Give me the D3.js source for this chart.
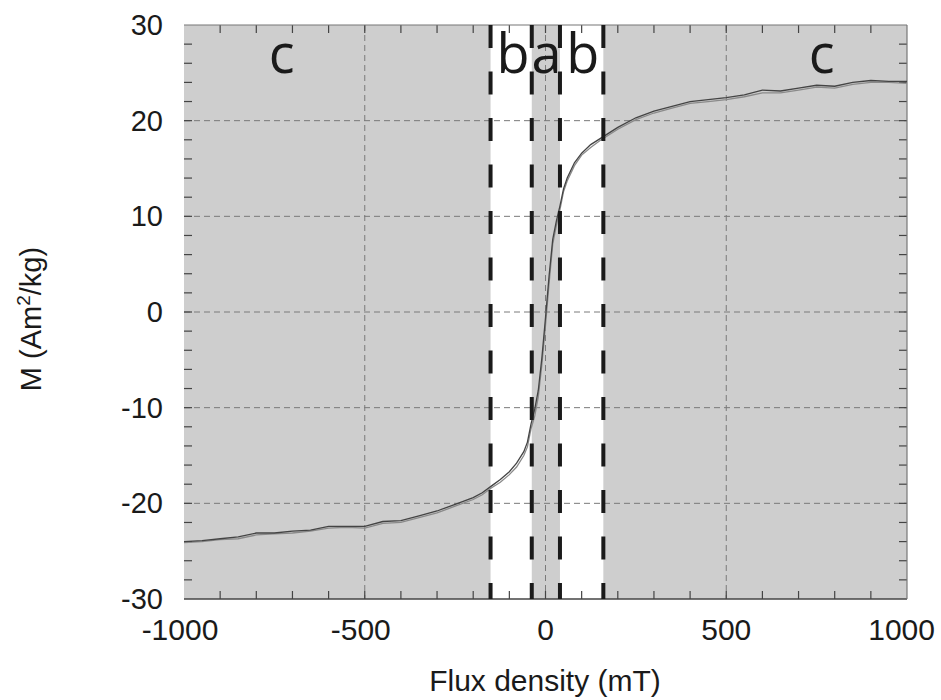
<!DOCTYPE html>
<html><head><meta charset="utf-8">
<script src="https://cdn.jsdelivr.net/npm/d3@7"></script>
<style>body{margin:0;background:#fff}svg{display:block}</style>
</head><body>
<svg id="chart" width="941" height="700"></svg>
<script>
// ---- data ----
const fieldMT = [-1000,-950,-900,-850,-800,-750,-700,-650,-600,-550,-500,-450,-400,-350,-300,-250,-200,-175,-150,-125,-100,-80,-60,-50,-40,-30,-20,-10,0,10,20,30,40,50,60,80,100,125,150,175,200,250,300,350,400,450,500,550,600,650,700,750,800,850,900,950,1000];
const descendingM = [-24.0,-23.9,-23.7,-23.5,-23.1,-23.1,-22.9,-22.8,-22.4,-22.4,-22.4,-21.9,-21.8,-21.3,-20.8,-20.1,-19.4,-18.9,-18.2,-17.5,-16.7,-15.8,-14.6,-13.6,-11.7,-10.2,-8.2,-4.8,-0.6,3.8,7.6,9.5,11.1,12.9,14.0,15.6,16.6,17.5,18.1,18.7,19.3,20.3,21.0,21.5,22.0,22.2,22.4,22.7,23.2,23.1,23.4,23.7,23.6,24.0,24.2,24.1,24.1];
const ascendingM = [-24.1,-24.0,-23.8,-23.7,-23.3,-23.2,-23.1,-22.9,-22.6,-22.5,-22.6,-22.1,-22.0,-21.5,-21.0,-20.3,-19.6,-19.1,-18.4,-17.8,-17.0,-16.2,-15.0,-14.1,-12.2,-10.9,-8.9,-5.5,-1.4,3.0,7.1,9.0,10.7,12.6,13.7,15.3,16.4,17.2,17.9,18.5,19.1,20.1,20.8,21.3,21.8,22.0,22.2,22.5,22.9,22.9,23.2,23.5,23.4,23.8,24.0,24.0,23.9];
const regionEdges = [-152, -38, 40, 160];
const whiteBands = [[-152, -38], [40, 160]];
const regionLabels = ["c", "b", "a", "b", "c"];
const regionLabelX = [-730, -90, 3, 103, 764];
const xTickValues = [-1000, -500, 0, 500, 1000];
const yTickValues = [-30, -20, -10, 0, 10, 20, 30];
const xMinorTicks = d3.range(-900, 1000, 100);
const yMinorTicks = d3.range(-28, 30, 2);
const xTitle = "Flux density (mT)";

// ---- layout ----
const svg = d3.select("#chart");
const L = 184, R = 907, T = 25, B = 599;
const x = d3.scaleLinear().domain([-1000, 1000]).range([L, R]);
const y = d3.scaleLinear().domain([-30, 30]).range([B, T]);

// background
svg.append("rect").attr("x", L).attr("y", T).attr("width", R - L).attr("height", B - T).attr("fill", "#cecece");
svg.selectAll("rect.band").data(whiteBands).enter().append("rect")
  .attr("x", d => x(d[0])).attr("y", T).attr("width", d => x(d[1]) - x(d[0])).attr("height", B - T)
  .attr("fill", "#fff");

// grid
const grid = svg.append("g").attr("stroke", "#7a7a7a").attr("stroke-width", 1).attr("stroke-dasharray", "6,4");
grid.selectAll("line.gx").data([-500, 0, 500]).enter().append("line")
  .attr("x1", d => x(d)).attr("x2", d => x(d)).attr("y1", T).attr("y2", B);
grid.selectAll("line.gy").data([-20, -10, 0, 10, 20]).enter().append("line")
  .attr("y1", d => y(d)).attr("y2", d => y(d)).attr("x1", L).attr("x2", R);

// minor ticks (inward, all four sides)
const tk = svg.append("g").attr("stroke", "#444").attr("stroke-width", 1.2);
const tl = 8;
xMinorTicks.forEach(v => {
  tk.append("line").attr("x1", x(v)).attr("x2", x(v)).attr("y1", B).attr("y2", B - tl);
  tk.append("line").attr("x1", x(v)).attr("x2", x(v)).attr("y1", T).attr("y2", T + tl);
});
yMinorTicks.forEach(v => {
  tk.append("line").attr("y1", y(v)).attr("y2", y(v)).attr("x1", L).attr("x2", L + tl);
  tk.append("line").attr("y1", y(v)).attr("y2", y(v)).attr("x1", R).attr("x2", R - tl);
});

// frame
svg.append("line").attr("x1", L).attr("x2", R).attr("y1", B).attr("y2", B).attr("stroke", "#444").attr("stroke-width", 1.5);
svg.append("line").attr("x1", L).attr("x2", R).attr("y1", T).attr("y2", T).attr("stroke", "#777").attr("stroke-width", 1.2);
svg.append("line").attr("x1", R).attr("x2", R).attr("y1", T).attr("y2", B).attr("stroke", "#777").attr("stroke-width", 1.2);

// curves
const line = d3.line().x(d => x(d[0])).y(d => y(d[1]));
svg.append("path").datum(fieldMT.map((f, i) => [f, ascendingM[i]]))
  .attr("d", line).attr("fill", "none").attr("stroke", "#8a8a8a").attr("stroke-width", 1.3);
svg.append("path").datum(fieldMT.map((f, i) => [f, descendingM[i]]))
  .attr("d", line).attr("fill", "none").attr("stroke", "#444").attr("stroke-width", 1.3);

// dashed region boundaries
svg.selectAll("line.edge").data(regionEdges).enter().append("line")
  .attr("x1", d => x(d)).attr("x2", d => x(d)).attr("y1", T).attr("y2", B)
  .attr("stroke", "#1a1a1a").attr("stroke-width", 4).attr("stroke-dasharray", "23,23.5");

// region labels
svg.selectAll("text.reg").data(regionLabels).enter().append("text")
  .attr("x", (d, i) => x(regionLabelX[i])).attr("y", 73)
  .attr("text-anchor", "middle").attr("font-family", "'Open Sans', sans-serif")
  .attr("font-size", 54).attr("fill", "#1a1a1a").text(d => d);

// tick labels
svg.selectAll("text.xt").data(xTickValues).enter().append("text")
  .attr("x", d => d === 1000 ? 935 : x(d) - (d < 0 ? 4 : 0))
  .attr("y", 640).attr("text-anchor", d => d === 1000 ? "end" : "middle")
  .attr("font-family", "'Liberation Sans', Arial, sans-serif").attr("font-size", 30)
  .attr("fill", "#1a1a1a").text(d => d);
svg.selectAll("text.yt").data(yTickValues).enter().append("text")
  .attr("x", 163).attr("y", d => y(d) + 10).attr("text-anchor", "end")
  .attr("font-family", "'Liberation Sans', Arial, sans-serif").attr("font-size", 29)
  .attr("fill", "#1a1a1a").text(d => d);

// axis titles
svg.append("text").attr("x", 545).attr("y", 691).attr("text-anchor", "middle")
  .attr("font-family", "'Liberation Sans', Arial, sans-serif").attr("font-size", 30)
  .attr("fill", "#1a1a1a").text(xTitle);
const yt = svg.append("text").attr("transform", "translate(41,319) rotate(-90)")
  .attr("text-anchor", "middle").attr("font-family", "'Liberation Sans', Arial, sans-serif")
  .attr("font-size", 29).attr("fill", "#1a1a1a");
yt.append("tspan").text("M (Am");
yt.append("tspan").attr("font-size", 19).attr("dy", -11).text("2");
yt.append("tspan").attr("dy", 11).text("/kg)");
</script>
</body></html>
